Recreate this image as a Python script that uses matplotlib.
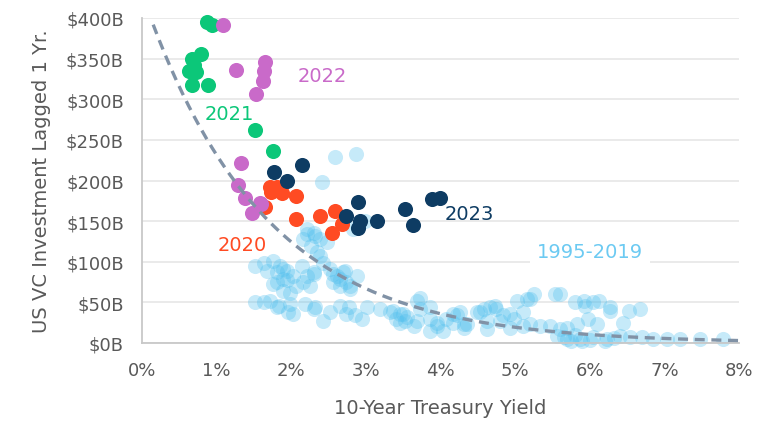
import numpy as np
import matplotlib
matplotlib.use("Agg")
import matplotlib.pyplot as plt
from matplotlib.ticker import FuncFormatter

plt.rcParams['font.family'] = ['DejaVu Sans']

# 10-year yield (%) vs. US VC investment lagged one year ($B)
hist_x = [2.59, 2.87, 2.41, 2.21, 2.32, 2.16, 2.39, 2.27, 2.48, 2.34, 2.21, 2.83, 2.99,
          1.51, 1.63, 1.76, 1.85, 1.67, 1.81, 1.94, 2.03, 1.89, 1.76, 2.14, 2.21, 2.30,
          2.25, 2.07, 1.98, 1.89, 2.39, 2.43, 2.52, 2.61, 2.70, 2.74, 2.65, 2.88, 2.56,
          2.79, 1.51, 1.63, 1.72, 1.83, 1.98, 1.96, 2.03, 2.18, 2.30, 2.43, 2.52, 2.65,
          2.74, 2.86, 2.95, 3.01, 3.19, 3.32, 3.41, 3.53, 1.81, 2.32, 2.77, 3.37, 3.50,
          3.68, 3.73, 3.86, 3.95, 4.08, 4.22, 4.31, 4.49, 4.66, 4.75, 4.84, 4.98, 5.02,
          5.16, 1.89, 1.81, 1.94, 2.16, 2.30, 2.56, 2.65, 2.72, 2.79, 2.30, 3.73, 3.86,
          3.55, 3.68, 3.95, 4.17, 4.26, 4.17, 4.35, 4.53, 4.58, 4.73, 4.62, 4.80, 4.93,
          5.11, 5.20, 5.25, 5.54, 5.20, 5.34, 5.47, 5.60, 5.69, 5.56, 3.86, 4.04, 4.31,
          4.62, 4.93, 5.11, 3.46, 3.46, 3.64, 5.80, 5.92, 5.94, 6.05, 6.12, 6.27, 6.27,
          6.52, 6.68, 6.45, 5.98, 6.10, 5.83, 5.69, 5.87, 6.05, 6.23, 6.41, 6.54, 6.70,
          6.85, 7.03, 7.21, 7.48, 7.79, 5.60, 5.75, 5.90, 6.00, 6.20, 6.32, 5.65, 5.80]
hist_y = [229, 233, 198, 140, 132, 128, 128, 120, 124, 112, 134, 140, 150,
          95, 99, 101, 95, 89, 87, 89, 83, 79, 73, 95, 83, 87,
          70, 70, 62, 64, 107, 99, 91, 83, 87, 75, 70, 83, 75,
          66, 50, 50, 52, 46, 48, 38, 36, 48, 42, 27, 38, 46,
          36, 34, 30, 44, 42, 38, 30, 27, 44, 44, 44, 40, 36,
          52, 42, 30, 21, 30, 34, 23, 38, 44, 42, 34, 30, 52,
          54, 91, 75, 77, 75, 85, 85, 79, 89, 70, 136, 56, 44,
          32, 27, 25, 36, 38, 25, 23, 38, 42, 46, 27, 27, 36,
          38, 54, 60, 60, 23, 21, 21, 17, 5, 9, 15, 15, 19,
          17, 19, 21, 36, 25, 21, 50, 52, 46, 50, 52, 44, 40,
          40, 42, 25, 30, 23, 23, 19, 5, 7, 5, 9, 7, 7,
          5, 5, 5, 5, 5, 60, 3, 2, 4, 3, 6, 8, 10]

y2020_x = [1.72, 1.81, 1.87, 2.07, 1.65, 2.07, 2.39, 2.58, 2.68, 2.54, 1.73]
y2020_y = [192, 192, 185, 181, 167, 153, 156, 162, 146, 135, 186]

y2021_x = [0.87, 0.94, 0.79, 0.67, 0.63, 0.73, 0.67, 0.88, 1.51, 1.76, 0.70]
y2021_y = [395, 392, 356, 350, 335, 334, 317, 318, 262, 236, 342]

y2022_x = [1.09, 1.26, 1.65, 1.63, 1.62, 1.53, 1.33, 1.29, 1.38, 1.58, 1.47, 1.60]
y2022_y = [391, 336, 346, 335, 323, 306, 222, 194, 179, 172, 160, 171]

y2023_x = [1.77, 2.14, 1.94, 2.90, 2.74, 2.92, 2.90, 3.15, 3.52, 3.63, 3.89, 3.99]
y2023_y = [211, 219, 200, 173, 156, 150, 142, 150, 165, 145, 177, 179]

# exponential trend: y = a * exp(-b * x)
trend_a = 430
trend_b = 0.62
trend_range = (0.15, 8.0)

fig = plt.figure(figsize=(7.84, 4.27), dpi=100)
ax = fig.add_axes([142 / 784, 83 / 427, 597 / 784, 325 / 427])

size = 118
ax.scatter(hist_x, hist_y, s=size, color='#4FBFEE', alpha=0.32, linewidths=0, zorder=2, clip_on=False)
ax.scatter(y2020_x, y2020_y, s=size, color='#FF4B23', linewidths=0, zorder=3, clip_on=False)
ax.scatter(y2021_x, y2021_y, s=size, color='#0CC779', linewidths=0, zorder=4, clip_on=False)
ax.scatter(y2022_x, y2022_y, s=size, color='#C96AC9', linewidths=0, zorder=5, clip_on=False)
ax.scatter(y2023_x, y2023_y, s=size, color='#0E3C63', linewidths=0, zorder=6, clip_on=False)

tx = np.linspace(trend_range[0], trend_range[1], 200)
ax.plot(tx, trend_a * np.exp(-trend_b * tx), color='#8192A6', lw=2.4,
        dashes=(3, 2), zorder=7, clip_on=False)

# series labels
lab = dict(fontsize=14, ha='center', va='center')
ax.text(2.41, 329, '2022', color='#C96AC9', **lab)
ax.text(1.17, 283, '2021', color='#0CC779', **lab)
ax.text(1.34, 121, '2020', color='#FF4B23', **lab)
ax.text(4.38, 159, '2023', color='#0E3C63', **lab)
ax.text(6.0, 112, '1995-2019', color='#6CCAF2', zorder=1,
        bbox=dict(facecolor='white', edgecolor='none', pad=5), **lab)

ax.set_xlim(0, 8)
ax.set_ylim(0, 400)
ax.set_xticks(range(0, 9))
ax.set_yticks(range(0, 401, 50))
ax.xaxis.set_major_formatter(FuncFormatter(lambda v, p: f'{v:.0f}%'))
ax.yaxis.set_major_formatter(FuncFormatter(lambda v, p: f'${v:.0f}B'))
ax.tick_params(length=0, labelsize=13, colors='#595959')
ax.tick_params(axis='x', pad=13)
ax.tick_params(axis='y', pad=13)

ax.grid(axis='y', color='#E8E8E8', lw=1.3, zorder=0)
ax.set_axisbelow(True)
for side in ('top', 'right'):
    ax.spines[side].set_visible(False)
for side in ('left', 'bottom'):
    ax.spines[side].set_color('#C8C8C8')
    ax.spines[side].set_linewidth(1.3)

ax.set_xlabel('10-Year Treasury Yield', fontsize=14, color='#595959', labelpad=14)
ax.set_ylabel('US VC Investment Lagged 1 Yr.', fontsize=14, color='#595959', labelpad=11)

fig.savefig('out.png', dpi=100)
